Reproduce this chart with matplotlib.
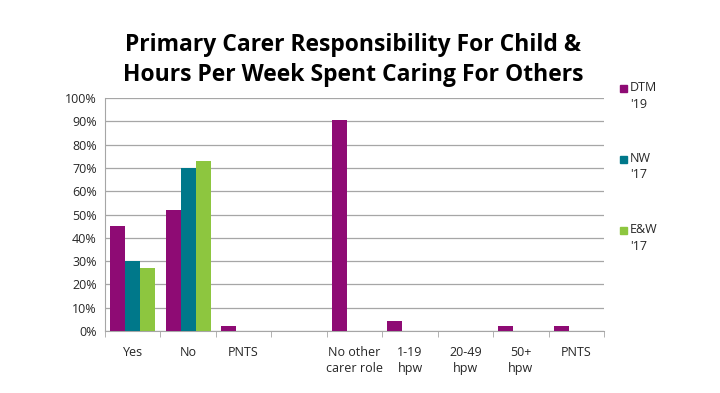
import numpy as np
import matplotlib
matplotlib.use('Agg')
import matplotlib.pyplot as plt
from matplotlib.patches import Rectangle
from matplotlib.ticker import FixedLocator, NullFormatter

categories = ["Yes", "No", "PNTS", "", "No other\ncarer role", "1-19\nhpw", "20-49\nhpw", "50+\nhpw", "PNTS"]
dtm_19 = [45, 52, 2, np.nan, 90.5, 4.5, 0, 2, 2]
nw_17 = [30, 70, 0, np.nan, np.nan, np.nan, np.nan, np.nan, np.nan]
ew_17 = [27, 73, 0, np.nan, np.nan, np.nan, np.nan, np.nan, np.nan]
series_names = ["DTM\n'19", "NW\n'17", "E&W\n'17"]
colors = ["#8E0B74", "#00788A", "#8DC63F"]

plt.rcParams['font.family'] = ['Open Sans', 'DejaVu Sans']

fig = plt.figure(figsize=(7.2, 3.93), dpi=100)
ax = fig.add_axes([105/720, 1 - 331/393, 499/720, 233/393])

x = np.arange(len(categories))
w = 0.27
for i, (vals, c) in enumerate(zip([dtm_19, nw_17, ew_17], colors)):
    ax.bar(x + (i - 1) * w, vals, width=w, color=c, zorder=3)

ax.set_xlim(-0.5, len(categories) - 0.5)
ax.set_ylim(0, 100)
ax.set_yticks(range(0, 101, 10))
ax.set_yticklabels([f"{v}%" for v in range(0, 101, 10)], fontsize=9, color="#262626")
ax.yaxis.grid(True, color="#A6A6A6", linewidth=0.9, zorder=0)
ax.tick_params(axis='y', length=0, pad=6)

ax.set_xticks(x)
ax.set_xticklabels(categories, fontsize=9, color="#262626", linespacing=1.25)
ax.tick_params(axis='x', which='major', length=0, pad=11)
ax.xaxis.set_minor_locator(FixedLocator(np.arange(-0.5, len(categories), 1)))
ax.xaxis.set_minor_formatter(NullFormatter())
ax.tick_params(axis='x', which='minor', length=4, color="#A6A6A6", direction='out')

for s in ["top", "right"]:
    ax.spines[s].set_visible(False)
ax.spines["left"].set_color("#A6A6A6")
ax.spines["bottom"].set_color("#A6A6A6")

fig.text(353/720, 1 - 60/393, "Primary Carer Responsibility For Child &\nHours Per Week Spent Caring For Others",
         ha="center", va="center", fontsize=16.5, fontweight="bold", color="black", linespacing=1.3)

# legend drawn by hand: square aligned with first line of the label
for i, (name, c) in enumerate(zip(series_names, colors)):
    y_top = 1 - (81 + 71 * i) / 393
    fig.add_artist(Rectangle((620/720, y_top - 11/393), 7/720, 7/393,
                             transform=fig.transFigure, color=c))
    fig.text(630/720, y_top, name, ha="left", va="top", fontsize=9,
             color="#262626", linespacing=1.35)

fig.savefig("out.png", dpi=100, facecolor="white")
